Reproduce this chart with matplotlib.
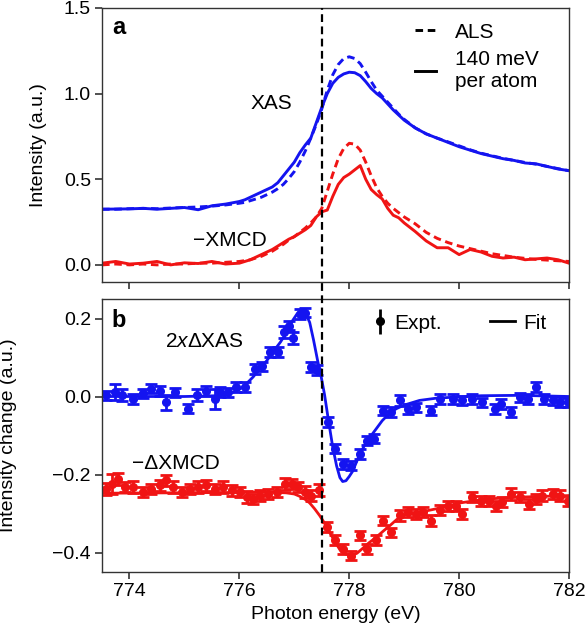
import matplotlib
matplotlib.use("Agg")
import matplotlib.pyplot as plt
from matplotlib.lines import Line2D
from matplotlib.legend_handler import HandlerErrorbar
from matplotlib.transforms import blended_transform_factory

plt.rcParams['font.family'] = ['Liberation Sans', 'DejaVu Sans']
plt.rcParams['mathtext.fontset'] = 'custom'
plt.rcParams['mathtext.rm'] = 'Liberation Sans'
plt.rcParams['mathtext.it'] = 'Liberation Sans:italic'

# =========================
# DATA - panel a (spectra)
# =========================
energy_a = [773.5, 773.75, 774.0, 774.25, 774.5, 774.75, 775.0, 775.25, 775.5, 775.75,
            776.0, 776.1, 776.2, 776.3, 776.4, 776.5, 776.6, 776.7, 776.8, 776.9,
            777.0, 777.1, 777.2, 777.3, 777.4, 777.5, 777.6, 777.7, 777.8, 777.9,
            778.0, 778.1, 778.2, 778.3, 778.4, 778.5, 778.6, 778.7, 778.8, 778.9,
            779.0, 779.2, 779.4, 779.6, 779.8, 780.0, 780.2, 780.4, 780.6, 780.8,
            781.0, 781.2, 781.4, 781.6, 781.8, 782.0]

xas_140 = [0.325, 0.326, 0.327, 0.330, 0.325, 0.330, 0.335, 0.322, 0.345, 0.355,
           0.370, 0.380, 0.395, 0.410, 0.425, 0.440, 0.455, 0.480, 0.520, 0.560,
           0.600, 0.655, 0.700, 0.740, 0.830, 0.920, 1.000, 1.060, 1.095, 1.115,
           1.125, 1.122, 1.105, 1.070, 1.030, 1.000, 0.975, 0.940, 0.905, 0.875,
           0.845, 0.800, 0.765, 0.740, 0.715, 0.690, 0.670, 0.650, 0.635, 0.620,
           0.610, 0.595, 0.590, 0.575, 0.560, 0.550]

xas_als = [0.325, 0.325, 0.328, 0.330, 0.328, 0.332, 0.335, 0.338, 0.343, 0.350,
           0.360, 0.365, 0.375, 0.385, 0.395, 0.410, 0.425, 0.445, 0.470, 0.505,
           0.545, 0.600, 0.665, 0.740, 0.820, 0.910, 1.020, 1.110, 1.170, 1.205,
           1.215, 1.205, 1.175, 1.125, 1.070, 1.020, 0.985, 0.950, 0.915, 0.880,
           0.850, 0.800, 0.765, 0.740, 0.718, 0.695, 0.672, 0.652, 0.637, 0.622,
           0.610, 0.598, 0.588, 0.575, 0.562, 0.550]

xmcd_140 = [0.010, 0.020, 0.005, 0.010, 0.020, 0.000, 0.012, 0.008, 0.020, 0.005,
            0.010, 0.020, 0.030, 0.045, 0.060, 0.075, 0.090, 0.110, 0.130, 0.150,
            0.165, 0.185, 0.205, 0.230, 0.280, 0.310, 0.320, 0.400, 0.470, 0.510,
            0.530, 0.555, 0.580, 0.500, 0.440, 0.410, 0.385, 0.330, 0.290, 0.275,
            0.245, 0.195, 0.140, 0.100, 0.100, 0.060, 0.090, 0.075, 0.050, 0.040,
            0.045, 0.030, 0.035, 0.040, 0.030, 0.010]

xmcd_als = [0.000, 0.005, 0.000, 0.005, 0.000, 0.005, 0.005, 0.010, 0.010, 0.015,
            0.020, 0.025, 0.030, 0.040, 0.050, 0.065, 0.080, 0.100, 0.120, 0.145,
            0.165, 0.190, 0.215, 0.245, 0.280, 0.330, 0.430, 0.530, 0.620, 0.680,
            0.710, 0.705, 0.670, 0.600, 0.520, 0.450, 0.400, 0.360, 0.330, 0.305,
            0.280, 0.240, 0.190, 0.155, 0.130, 0.110, 0.095, 0.080, 0.065, 0.055,
            0.045, 0.038, 0.032, 0.028, 0.024, 0.020]

# =========================
# DATA - panel b (changes)
# =========================
dxas_x = [773.58, 773.74, 773.86, 774.07, 774.25, 774.40, 774.55, 774.67, 774.83, 775.07,
          775.22, 775.40, 775.55, 775.65, 775.79, 775.94, 776.10, 776.28, 776.42, 776.55,
          776.70, 776.82, 776.91, 776.97, 777.10, 777.19, 777.30, 777.42, 777.61, 777.74,
          777.89, 778.04, 778.19, 778.33, 778.45, 778.61, 778.76, 778.92, 779.07, 779.22,
          779.49, 779.65, 779.88, 780.06, 780.24, 780.42, 780.65, 780.77, 780.95, 781.10,
          781.25, 781.40, 781.55, 781.71, 781.83, 781.98]
dxas_y = [0.003, 0.011, 0.003, -0.006, 0.008, 0.020, 0.015, -0.015, 0.011, -0.031,
          0.003, 0.015, -0.006, 0.011, 0.011, 0.024, 0.024, 0.071, 0.077, 0.114,
          0.114, 0.165, 0.182, 0.150, 0.212, 0.215, 0.075, 0.067, -0.066, -0.134,
          -0.173, -0.177, -0.147, -0.113, -0.108, -0.036, -0.040, -0.010, -0.032, -0.028,
          -0.036, -0.006, -0.006, -0.010, -0.006, -0.015, -0.032, -0.019, -0.040, -0.002,
          -0.006, 0.024, -0.006, -0.010, -0.015, -0.015]
dxas_err = [0.012, 0.020, 0.015, 0.013, 0.012, 0.012, 0.013, 0.020, 0.012, 0.012,
            0.015, 0.013, 0.025, 0.013, 0.012, 0.013, 0.012, 0.013, 0.012, 0.013,
            0.013, 0.015, 0.012, 0.015, 0.012, 0.012, 0.013, 0.013, 0.013, 0.012,
            0.012, 0.012, 0.013, 0.012, 0.012, 0.012, 0.013, 0.015, 0.012, 0.012,
            0.012, 0.012, 0.012, 0.012, 0.012, 0.012, 0.013, 0.012, 0.013, 0.012,
            0.012, 0.013, 0.012, 0.012, 0.013, 0.012]

dxas_fit_x = [773.5, 775.0, 775.6, 775.8, 776.0, 776.13, 776.25, 776.37, 776.5, 776.61,
              776.75, 776.86, 776.97, 777.05, 777.12, 777.2, 777.28, 777.35, 777.42, 777.49,
              777.55, 777.62, 777.7, 777.77, 777.83, 777.88, 777.94, 778.0, 778.06, 778.12,
              778.19, 778.3, 778.4, 778.49, 778.6, 778.74, 778.86, 779.0, 779.28, 779.6,
              779.88, 780.4, 781.1, 782.0]
dxas_fit_y = [0.0, 0.0, 0.002, 0.006, 0.018, 0.033, 0.050, 0.071, 0.092, 0.114,
              0.140, 0.165, 0.195, 0.212, 0.220, 0.215, 0.190, 0.145, 0.095, 0.050,
              0.005, -0.060, -0.130, -0.178, -0.208, -0.218, -0.216, -0.205, -0.192, -0.172,
              -0.148, -0.120, -0.100, -0.083, -0.062, -0.042, -0.031, -0.022, -0.010, -0.004,
              -0.002, 0.002, 0.003, 0.0]

dxmcd_x = [773.58, 773.68, 773.80, 773.92, 774.07, 774.25, 774.40, 774.55, 774.67, 774.79,
           774.95, 775.10, 775.25, 775.40, 775.55, 775.71, 775.86, 776.01, 776.13, 776.25,
           776.37, 776.52, 776.68, 776.83, 776.95, 777.07, 777.19, 777.30, 777.45, 777.60,
           777.74, 777.89, 778.04, 778.19, 778.33, 778.49, 778.61, 778.76, 778.92, 779.07,
           779.22, 779.34, 779.49, 779.65, 779.79, 779.94, 780.06, 780.24, 780.40, 780.55,
           780.67, 780.78, 780.95, 781.10, 781.27, 781.40, 781.51, 781.71, 781.83, 781.98]
dxmcd_y = [-0.237, -0.224, -0.211, -0.232, -0.232, -0.245, -0.237, -0.228, -0.215, -0.232,
           -0.245, -0.237, -0.232, -0.228, -0.237, -0.232, -0.241, -0.245, -0.258, -0.262,
           -0.254, -0.250, -0.245, -0.224, -0.224, -0.232, -0.245, -0.254, -0.240, -0.335,
           -0.369, -0.391, -0.408, -0.356, -0.391, -0.369, -0.318, -0.348, -0.305, -0.297,
           -0.301, -0.297, -0.318, -0.292, -0.280, -0.280, -0.301, -0.258, -0.267, -0.267,
           -0.280, -0.271, -0.250, -0.258, -0.275, -0.262, -0.254, -0.250, -0.254, -0.267]
dxmcd_err = [0.015, 0.025, 0.015, 0.013, 0.015, 0.013, 0.013, 0.015, 0.015, 0.015,
             0.013, 0.013, 0.015, 0.015, 0.013, 0.015, 0.013, 0.013, 0.015, 0.013,
             0.013, 0.013, 0.013, 0.015, 0.013, 0.013, 0.015, 0.013, 0.015, 0.013,
             0.013, 0.013, 0.012, 0.012, 0.012, 0.013, 0.012, 0.012, 0.013, 0.013,
             0.013, 0.013, 0.013, 0.013, 0.013, 0.013, 0.013, 0.013, 0.013, 0.013,
             0.013, 0.013, 0.015, 0.013, 0.013, 0.013, 0.013, 0.013, 0.013, 0.013]

dxmcd_fit_x = [773.5, 776.0, 776.5, 776.85, 777.0, 777.1, 777.2, 777.28, 777.37, 777.46,
               777.52, 777.58, 777.65, 777.74, 777.83, 777.93, 778.04, 778.14, 778.24, 778.36,
               778.49, 778.62, 778.74, 778.86, 778.97, 779.1, 779.28, 779.58, 780.01, 780.49,
               781.1, 782.0]
dxmcd_fit_y = [-0.248, -0.246, -0.245, -0.247, -0.250, -0.256, -0.264, -0.273, -0.288, -0.305,
               -0.318, -0.332, -0.350, -0.372, -0.393, -0.404, -0.408, -0.402, -0.390, -0.375,
               -0.361, -0.345, -0.331, -0.316, -0.305, -0.300, -0.297, -0.288, -0.273, -0.263,
               -0.258, -0.254]

edge_energy = 777.5
x_ticks = [774, 776, 778, 780, 782]

BLUE = '#1414f0'
RED = '#f01414'
SPINE = '#333333'

# =========================
# FIGURE
# =========================
fig = plt.figure(figsize=(5.88, 6.44), dpi=100)
ax_a = fig.add_axes([0.1735, 0.5621, 0.7942, 0.4255])
ax_b = fig.add_axes([0.1735, 0.1118, 0.7942, 0.4239])

for ax in (ax_a, ax_b):
    for s in ax.spines.values():
        s.set_color(SPINE)
        s.set_linewidth(1.0)
    ax.tick_params(direction='out', length=5, width=1.2, color=SPINE,
                   labelsize=14, pad=3)
    ax.set_xlim(773.5, 782)
    ax.set_xticks(x_ticks)

# ---- panel a ----
dash = (0, (2.6, 1.6))
ax_a.plot(energy_a, xas_als, color=BLUE, lw=2.1, ls=dash)
ax_a.plot(energy_a, xas_140, color=BLUE, lw=2.1)
ax_a.plot(energy_a, xmcd_als, color=RED, lw=2.1, ls=dash)
ax_a.plot(energy_a, xmcd_140, color=RED, lw=2.1)
ax_a.set_ylim(-0.1, 1.5)
ax_a.set_yticks([0, 0.5, 1.0, 1.5])
ax_a.set_yticklabels(['0.0', '0.5', '1.0', '1.5'])
ax_a.tick_params(axis='x', labelbottom=False)
ax_a.set_ylabel('Intensity (a.u.)', fontsize=14)
ax_a.yaxis.set_label_coords(-0.118, 0.5)

ax_a.text(0.021, 0.927, 'a', transform=ax_a.transAxes, fontsize=17,
          fontweight='bold', ha='left', va='center')
ax_a.text(776.2, 0.94, 'XAS', fontsize=15, ha='left', va='center')
ax_a.text(775.15, 0.145, '\u2212XMCD', fontsize=15, ha='left', va='center')

leg_a_handles = [Line2D([], [], color='k', lw=2.1, ls=dash),
                 Line2D([], [], color='k', lw=2.1)]
ax_a.legend(leg_a_handles, ['ALS', '140 meV\nper atom'], loc='upper left',
            bbox_to_anchor=(0.64, 1.0), frameon=False, fontsize=15,
            handlelength=1.0, handletextpad=0.9, labelspacing=0.4,
            borderaxespad=0.3)

# ---- panel b ----
ax_b.errorbar(dxas_x, dxas_y, yerr=dxas_err, fmt='o', color=BLUE, ms=5.5,
              elinewidth=2.0, capsize=4, capthick=2.0)
ax_b.plot(dxas_fit_x, dxas_fit_y, color=BLUE, lw=2.0)
ax_b.errorbar(dxmcd_x, dxmcd_y, yerr=dxmcd_err, fmt='o', color=RED, ms=5.5,
              elinewidth=2.0, capsize=4, capthick=2.0)
ax_b.plot(dxmcd_fit_x, dxmcd_fit_y, color=RED, lw=2.0)
ax_b.set_ylim(-0.45, 0.25)
ax_b.set_yticks([-0.4, -0.2, 0.0, 0.2])
ax_b.set_ylabel('Intensity change (a.u.)', fontsize=14)
ax_b.yaxis.set_label_coords(-0.182, 0.5)
ax_b.set_xlabel('Photon energy (eV)', fontsize=14)

ax_b.text(0.021, 0.923, 'b', transform=ax_b.transAxes, fontsize=17,
          fontweight='bold', ha='left', va='center')
ax_b.text(774.65, 0.14, '2$\\mathit{x}$\u0394XAS',
          fontsize=15, ha='left', va='center')
ax_b.text(774.04, -0.173, '\u2212\u0394XMCD', fontsize=15, ha='left', va='center')

expt_handle = ax_b.errorbar([], [], yerr=[], fmt='o', color='k', ms=5.5,
                            elinewidth=2.0, capsize=4, capthick=2.0)
leg_expt = ax_b.legend([expt_handle], ['Expt.'], loc='upper left',
                       bbox_to_anchor=(0.55, 1.0), frameon=False, fontsize=15,
                       handlelength=0.6, handletextpad=0.4, borderaxespad=0.3,
                       handler_map={type(expt_handle): HandlerErrorbar(yerr_size=0.6)})
ax_b.add_artist(leg_expt)
ax_b.legend([Line2D([], [], color='k', lw=2.0)], ['Fit'], loc='upper left',
            bbox_to_anchor=(0.80, 1.0), frameon=False, fontsize=15,
            handlelength=1.2, handletextpad=0.4, borderaxespad=0.3)

# dashed line at the edge, through both panels
trans = blended_transform_factory(ax_b.transData, fig.transFigure)
fig.add_artist(Line2D([edge_energy, edge_energy], [0.1118, 0.9876], transform=trans,
                      color='k', lw=1.6, ls=(0, (3.5, 2.0))))

fig.savefig('out.png', dpi=100)
